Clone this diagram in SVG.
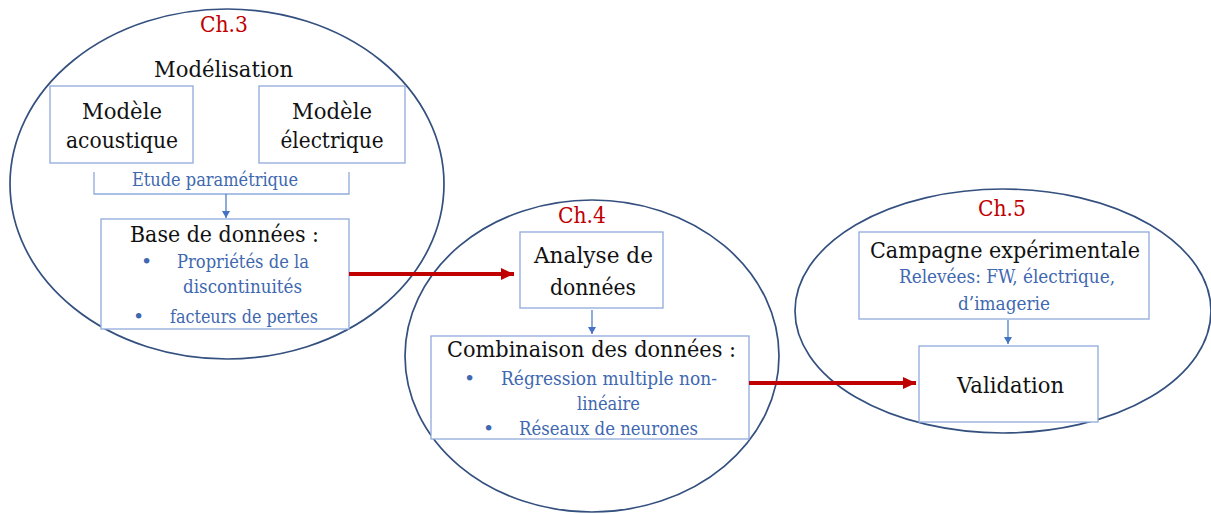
<svg xmlns="http://www.w3.org/2000/svg" width="1211" height="514" viewBox="0 0 1211 514">
<style>
.ell{fill:none;stroke:#34507f;stroke-width:1.7}
.box{fill:#ffffff;stroke:#8faadc;stroke-width:1.3}
text{font-family:'DejaVu Serif','Liberation Serif',serif}
.t{font-size:23px;fill:#111111}
.b{font-size:19px;fill:#4068b0}
.ch{font-size:23px;fill:#c00000}
.mid{text-anchor:middle}
.red{stroke:#c00000;stroke-width:4;fill:none}
.blue{stroke:#4472c4;stroke-width:1.2;fill:none}
</style>
<defs>
<marker id="ra" markerUnits="userSpaceOnUse" markerWidth="14" markerHeight="12" refX="13" refY="6" orient="auto">
<path d="M0,0 L13,6 L0,12 Z" fill="#c00000"/>
</marker>
<marker id="ba" markerUnits="userSpaceOnUse" markerWidth="8" markerHeight="8" refX="7" refY="4" orient="auto">
<path d="M0,0 L7,4 L0,8 Z" fill="#4472c4"/>
</marker>
</defs>
<rect width="1211" height="514" fill="#ffffff"/>
<g id="ch3">
<ellipse class="ell" cx="227" cy="184" rx="217" ry="175"/>
<text class="ch mid" x="224" y="32" textLength="48" lengthAdjust="spacingAndGlyphs">Ch.3</text>
<text class="t mid" x="223.5" y="77" textLength="139" lengthAdjust="spacingAndGlyphs">Modélisation</text>
</g>
<g id="ch4">
<ellipse class="ell" cx="592" cy="356" rx="187" ry="156"/>
<text class="ch mid" x="582" y="223" textLength="48" lengthAdjust="spacingAndGlyphs">Ch.4</text>
</g>
<g id="ch5">
<ellipse class="ell" cx="1003" cy="311" rx="208" ry="122"/>
<text class="ch mid" x="1002" y="216" textLength="48" lengthAdjust="spacingAndGlyphs">Ch.5</text>
</g>
<g id="modele-acoustique">
<rect class="box" x="50" y="86" width="143" height="77"/>
<text class="t mid" x="122" y="119" textLength="80" lengthAdjust="spacingAndGlyphs">Modèle</text>
<text class="t mid" x="122" y="148" textLength="112" lengthAdjust="spacingAndGlyphs">acoustique</text>
</g>
<g id="modele-electrique">
<rect class="box" x="259" y="86" width="146" height="77"/>
<text class="t mid" x="332" y="119" textLength="80" lengthAdjust="spacingAndGlyphs">Modèle</text>
<text class="t mid" x="332" y="148" textLength="103" lengthAdjust="spacingAndGlyphs">électrique</text>
</g>
<g id="etude-parametrique">
<path d="M94,172 V194 H349 V172" fill="none" stroke="#8faadc" stroke-width="1.3"/>
<text class="b mid" x="215" y="186" textLength="166" lengthAdjust="spacingAndGlyphs">Etude paramétrique</text>
</g>
<g id="base-de-donnees">
<rect class="box" x="101" y="219" width="248" height="110"/>
<text class="t mid" x="224.5" y="242" textLength="189" lengthAdjust="spacingAndGlyphs">Base de données :</text>
<text class="b" x="141" y="268">•</text>
<text class="b" x="177" y="268" textLength="132" lengthAdjust="spacingAndGlyphs">Propriétés de la</text>
<text class="b mid" x="242.5" y="293" textLength="119" lengthAdjust="spacingAndGlyphs">discontinuités</text>
<text class="b" x="133" y="323">•</text>
<text class="b" x="170" y="323" textLength="148" lengthAdjust="spacingAndGlyphs">facteurs de pertes</text>
</g>
<g id="analyse-de-donnees">
<rect class="box" x="520" y="232" width="143" height="76"/>
<text class="t mid" x="593.5" y="263" textLength="119" lengthAdjust="spacingAndGlyphs">Analyse de</text>
<text class="t mid" x="593" y="295" textLength="86" lengthAdjust="spacingAndGlyphs">données</text>
</g>
<g id="combinaison-des-donnees">
<rect class="box" x="431" y="336" width="318" height="103"/>
<text class="t mid" x="591.5" y="357" textLength="289" lengthAdjust="spacingAndGlyphs">Combinaison des données :</text>
<text class="b" x="464" y="385">•</text>
<text class="b" x="501" y="385" textLength="216" lengthAdjust="spacingAndGlyphs">Régression multiple non-</text>
<text class="b mid" x="608.5" y="410" textLength="63" lengthAdjust="spacingAndGlyphs">linéaire</text>
<text class="b" x="483" y="435">•</text>
<text class="b" x="519" y="435" textLength="179" lengthAdjust="spacingAndGlyphs">Réseaux de neurones</text>
</g>
<g id="campagne-experimentale">
<rect class="box" x="859" y="232" width="290" height="87"/>
<text class="t mid" x="1005" y="258" textLength="270" lengthAdjust="spacingAndGlyphs">Campagne expérimentale</text>
<text class="b mid" x="1007" y="283" textLength="216" lengthAdjust="spacingAndGlyphs">Relevées: FW, électrique,</text>
<text class="b mid" x="1004" y="310" textLength="92" lengthAdjust="spacingAndGlyphs">d’imagerie</text>
</g>
<g id="validation">
<rect class="box" x="919" y="346" width="179" height="76"/>
<text class="t mid" x="1010.5" y="393" textLength="107" lengthAdjust="spacingAndGlyphs">Validation</text>
</g>
<g id="connectors">
<line class="blue" x1="226" y1="194" x2="226" y2="218" marker-end="url(#ba)"/>
<line class="blue" x1="592" y1="310" x2="592" y2="334" marker-end="url(#ba)"/>
<line class="blue" x1="1008" y1="320" x2="1008" y2="344" marker-end="url(#ba)"/>
<line class="red" x1="349" y1="274" x2="514" y2="274" marker-end="url(#ra)"/>
<line class="red" x1="749" y1="383" x2="916" y2="383" marker-end="url(#ra)"/>
</g>
</svg>
